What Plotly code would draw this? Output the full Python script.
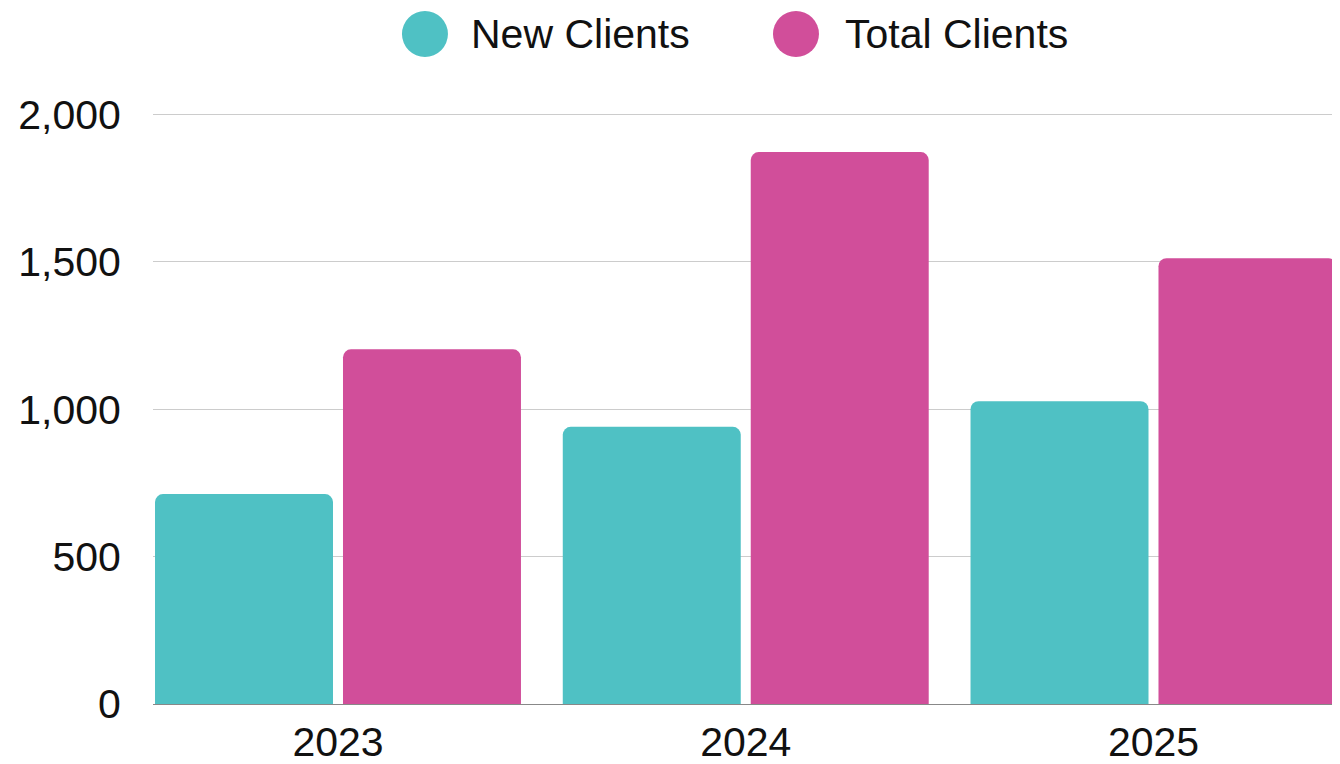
import plotly.graph_objects as go

years = ["2023", "2024", "2025"]
new_clients = [712, 940, 1027]
total_clients = [1203, 1872, 1512]
series_names = ["New Clients", "Total Clients"]
colors = ["#4FC1C4", "#D14E9A"]
y_ticks = [0, 500, 1000, 1500, 2000]
y_tick_labels = ["0", "500", "1,000", "1,500", "2,000"]

FONT = "Liberation Sans"
FS = 41
BAR_W = 0.4365
GAP = 0.0245
offsets = [-BAR_W - GAP / 2, GAP / 2]

fig = go.Figure()
for name, vals, col, off in zip(series_names, [new_clients, total_clients], colors, offsets):
    fig.add_trace(go.Bar(x=years, y=vals, name=name, width=BAR_W, offset=off,
                         marker=dict(color=col, line=dict(width=0)), showlegend=False))

# custom legend (large circles)
LEG_Y = 1.1318
legend_x = [(0.2295, 0.2667), (0.5426, 0.5823)]
for (cx, tx), name, col in zip(legend_x, series_names, colors):
    fig.add_shape(type="circle", xref="paper", yref="paper", xsizemode="pixel", ysizemode="pixel",
                  xanchor=cx, yanchor=LEG_Y, x0=-23, x1=23, y0=-23, y1=23,
                  fillcolor=col, line=dict(width=0))
    fig.add_annotation(x=tx, y=LEG_Y, xref="paper", yref="paper", text=name, showarrow=False,
                       xanchor="left", yanchor="middle", font=dict(family=FONT, size=FS, color="#111111"))

fig.update_layout(
    width=1332, height=756,
    margin=dict(l=145, r=2, t=104, b=60),
    paper_bgcolor="white", plot_bgcolor="white",
    barmode="overlay", barcornerradius=8,
    font=dict(family=FONT, size=FS, color="#111111"),
    showlegend=False,
)
fig.update_xaxes(range=[-0.4537, 2.4525], showgrid=False, ticks="outside", ticklen=0, automargin=False,
                 ticklabelstandoff=2, tickfont=dict(size=FS))
fig.update_yaxes(range=[0, 2008], tickvals=y_ticks, ticktext=y_tick_labels, showgrid=True,
                 gridcolor="#cccccc", gridwidth=1, zeroline=True, zerolinecolor="#888888",
                 zerolinewidth=1, ticks="outside", ticklen=0, ticklabelstandoff=23, automargin=False,
                 tickfont=dict(size=FS))

fig.write_html("out.html")
